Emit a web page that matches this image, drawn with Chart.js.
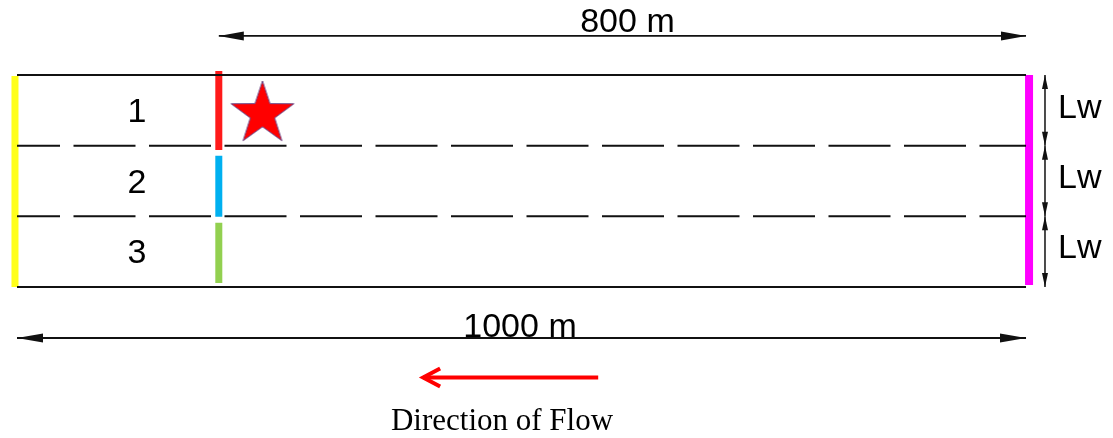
<!DOCTYPE html>
<html>
<head>
<meta charset="utf-8">
<script src="https://cdn.jsdelivr.net/npm/chart.js@4"></script>
<style>
  body { margin: 0; background: #fff; }
  #wrap { width: 1113px; height: 438px; }
</style>
</head>
<body>
<div id="wrap"><canvas id="myChart" width="1113" height="438"></canvas></div>
<script>
// x in metres along the channel, y in lane widths (Lw) from the bottom bank
let channelX = [0, 1000];
let laneEdges = [3, 0];
let laneDividers = [2, 1];
let releaseX = 200;
let laneNames = ["1", "2", "3"];
let laneLabelY = [2.34, 1.33, 0.34];
let lwLabelY = [2.387, 1.396, 0.406];
let topSpan = [200, 1000];
let topSpanY = 3.552;
let bottomSpanY = -0.722;
let flowArrowX = [576, 402.5];
let flowArrowY = -1.281;
let starPoint = { x: 243.3, y: 2.462 };

let black = "#111111";

function seg(x1, y1, x2, y2) {
  return [{ x: x1, y: y1 }, { x: x2, y: y2 }];
}

// filled five-pointed star used as a point style
let starCanvas = document.createElement("canvas");
starCanvas.width = 72;
starCanvas.height = 72;
(function () {
  let c = starCanvas.getContext("2d");
  let R = 33, r = 12.8, cx = 36, cy = 37;
  c.beginPath();
  for (let i = 0; i < 10; i++) {
    let rad = i % 2 === 0 ? R : r;
    let a = -Math.PI / 2 + (i * Math.PI) / 5;
    c.lineTo(cx + rad * Math.cos(a), cy + rad * Math.sin(a));
  }
  c.closePath();
  c.fillStyle = "#ff0000";
  c.fill();
  c.lineWidth = 1;
  c.strokeStyle = "#6a4a8a";
  c.stroke();
})();

let lineDs = (data, color, width, extra) =>
  Object.assign(
    {
      data: data,
      showLine: true,
      borderColor: color,
      borderWidth: width,
      pointRadius: 0,
      fill: false,
    },
    extra || {}
  );

let datasets = [
  // banks
  lineDs(seg(channelX[0], laneEdges[0], channelX[1], laneEdges[0]), black, 2),
  lineDs(seg(channelX[0], laneEdges[1], channelX[1], laneEdges[1]), black, 2),
  // lane dividers
  lineDs(seg(channelX[0], laneDividers[0], channelX[1], laneDividers[0]), black, 2, { borderDash: [62, 13.5], borderDashOffset: 19 }),
  lineDs(seg(channelX[0], laneDividers[1], channelX[1], laneDividers[1]), black, 2, { borderDash: [62, 13.5], borderDashOffset: 19 }),
  // boundaries
  lineDs(seg(-2, 2.986, -2, 0), "#ffff1a", 7),
  lineDs(seg(1003, 3.0, 1003, 0.028), "#ff00ff", 8),
  // release sections per lane
  lineDs(seg(releaseX, 3.057, releaseX, 1.939), "#ff1a1a", 7),
  lineDs(seg(releaseX, 1.858, releaseX, 0.995), "#00b0f0", 7),
  lineDs(seg(releaseX, 0.91, releaseX, 0.057), "#92d050", 7),
  // dimension lines
  lineDs(seg(topSpan[0], topSpanY, topSpan[1], topSpanY), black, 1.8, { arrow: { len: 25, half: 4.5 } }),
  lineDs(seg(channelX[0], bottomSpanY, channelX[1], bottomSpanY), black, 1.8, { arrow: { len: 26, half: 4.5 } }),
  lineDs(seg(1018.8, 3, 1018.8, 2), black, 1.5, { arrow: { len: 14, half: 3 } }),
  lineDs(seg(1018.8, 2, 1018.8, 1), black, 1.5, { arrow: { len: 14, half: 3 } }),
  lineDs(seg(1018.8, 1, 1018.8, 0), black, 1.5, { arrow: { len: 14, half: 3 } }),
  // flow direction
  lineDs(seg(flowArrowX[0], flowArrowY, flowArrowX[1], flowArrowY), "#ff0000", 4, { arrow: { len: 17, half: 9, open: true, endOnly: true } }),
  // pollutant source
  {
    data: [starPoint],
    pointStyle: starCanvas,
    pointRadius: 30,
    showLine: false,
  },
];

let texts = [
  { t: "800 m", x: 605, y: 3.608, font: "34px 'Liberation Sans', Arial", align: "center" },
  { t: "1000 m", x: 498.5, y: -0.708, font: "34px 'Liberation Sans', Arial", align: "center" },
  { t: "Direction of Flow", x: 480.7, y: -2.024, font: "31px 'Liberation Serif', 'Times New Roman', serif", align: "center" },
];
laneNames.forEach((n, i) => texts.push({ t: n, x: 119, y: laneLabelY[i], font: "34px 'Liberation Sans', Arial", align: "center" }));
lwLabelY.forEach((y) => texts.push({ t: "Lw", x: 1031.7, y: y, font: "34px 'Liberation Sans', Arial", align: "left" }));

let arrowPlugin = {
  id: "arrowHeads",
  afterDatasetsDraw(chart) {
    let ctx = chart.ctx;
    chart.data.datasets.forEach((ds, i) => {
      if (!ds.arrow) return;
      let pts = chart.getDatasetMeta(i).data;
      let a = ds.arrow;
      let heads = a.endOnly ? [[pts[pts.length - 1], pts[pts.length - 2]]] : [[pts[0], pts[1]], [pts[pts.length - 1], pts[pts.length - 2]]];
      heads.forEach(([tip, from]) => {
        let dx = tip.x - from.x, dy = tip.y - from.y;
        let d = Math.hypot(dx, dy);
        let ux = dx / d, uy = dy / d;
        let bx = tip.x - ux * a.len, by = tip.y - uy * a.len;
        let nx = -uy, ny = ux;
        ctx.save();
        ctx.beginPath();
        ctx.moveTo(bx + nx * a.half, by + ny * a.half);
        ctx.lineTo(tip.x, tip.y);
        ctx.lineTo(bx - nx * a.half, by - ny * a.half);
        if (a.open) {
          ctx.strokeStyle = ds.borderColor;
          ctx.lineWidth = ds.borderWidth;
          ctx.lineJoin = "miter";
          ctx.stroke();
        } else {
          ctx.closePath();
          ctx.fillStyle = ds.borderColor;
          ctx.fill();
        }
        ctx.restore();
      });
    });
  },
};

let textPlugin = {
  id: "diagramText",
  afterDatasetsDraw(chart) {
    let ctx = chart.ctx;
    let xs = chart.scales.x, ys = chart.scales.y;
    ctx.save();
    ctx.fillStyle = "#000";
    ctx.textBaseline = "alphabetic";
    texts.forEach((t) => {
      ctx.font = t.font;
      ctx.textAlign = t.align;
      ctx.fillText(t.t, xs.getPixelForValue(t.x), ys.getPixelForValue(t.y));
    });
    ctx.restore();
  },
};

let myChart = document.getElementById("myChart").getContext("2d");
let channelChart = new Chart(myChart, {
  type: "scatter",
  data: { datasets: datasets },
  options: {
    responsive: false,
    animation: false,
    devicePixelRatio: 1,
    layout: { padding: 0, autoPadding: false },
    clip: false,
    scales: {
      x: { type: "linear", min: -16.85, max: 1086.2, display: false },
      y: { type: "linear", min: -2.137, max: 4.061, display: false },
    },
    plugins: {
      legend: { display: false },
      tooltip: { enabled: false },
    },
  },
  plugins: [arrowPlugin, textPlugin],
});
</script>
</body>
</html>
